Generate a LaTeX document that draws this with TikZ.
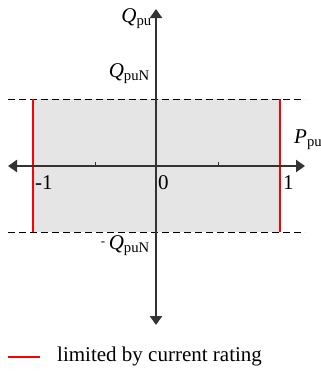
\documentclass[tikz,border=0pt]{standalone}
\usepackage{fontspec}
\setmainfont{Liberation Serif}
\usetikzlibrary{arrows.meta,positioning}
\tikzset{
  axis/.style={
    line width=2.4pt,
    draw=black!80,
    -{Triangle[width=12pt,length=9pt]}
  },
  limit/.style={
    draw=red,
    line width=1.5pt
  },
  bound/.style={
    draw=black,
    line width=0.9pt,
    dash pattern=on 7pt off 4pt
  },
  lbl/.style={
    inner sep=0pt,
    font=\fontsize{21}{25}\selectfont
  },
}
\newcommand{\Qsym}[1]{\textit{Q}\textsubscript{#1}}

\begin{document}
\begin{tikzpicture}[x=1pt,y=-1pt]
  \useasboundingbox (0,0) rectangle (321,373);
  % operating region
  \fill[black!10] (33,99) rectangle (280,232);
  \coordinate (tl) at (8,99);   \coordinate (tr) at (305,99);
  \coordinate (bl) at (8,232);  \coordinate (br) at (305,232);
  \draw[bound] (tl) -- (tr);
  \draw[bound] (bl) -- (br);
  \foreach \x/\n in {33/l,280/r}{
    \coordinate (\n top) at (\x,99);
    \coordinate (\n bot) at (\x,232);
    \draw[limit] (\n top) -- (\n bot);
  }
  % axes
  \coordinate (o) at (156,166);
  \coordinate (xl) at (8,166);  \coordinate (xr) at (305,166);
  \coordinate (yb) at (156,325); \coordinate (yt) at (156,9);
  \draw[axis] (o) -- (xr);
  \draw[axis] (o) -- (xl);
  \draw[axis] (o) -- (yt);
  \draw[axis] (o) -- (yb);
  \foreach \x in {95,218}
    \draw[line width=1pt, black!80] (\x,166) -- ++(0,-4);
  % labels
  \node[lbl, anchor=east] (qpu)  at (152,19)  {\Qsym{pu}};
  \node[lbl, anchor=east] (qn)   at (150,74)  {\Qsym{puN}};
  \node[lbl, anchor=east] (qnm)  at (150,246) {\raisebox{.5ex}{\fontsize{13}{13}\selectfont -}\,\Qsym{puN}};
  \node[lbl, anchor=west] (ppu)  at (294,140) {\textit{P}\textsubscript{pu}};
  \node[lbl, anchor=west] (m1)   at (35,183)  {-1};
  \node[lbl, anchor=west] (zero) at (158,183) {0};
  \node[lbl, anchor=west] (p1)   at (283,183) {1};
  % legend
  \coordinate (lgA) at (8,357);
  \coordinate (lgB) at (40,357);
  \draw[limit] (lgA) -- (lgB);
  \node[lbl, anchor=west, font=\fontsize{21}{25}\selectfont] (lgtext) at (57,356) {limited by current rating};
\end{tikzpicture}
\end{document}
